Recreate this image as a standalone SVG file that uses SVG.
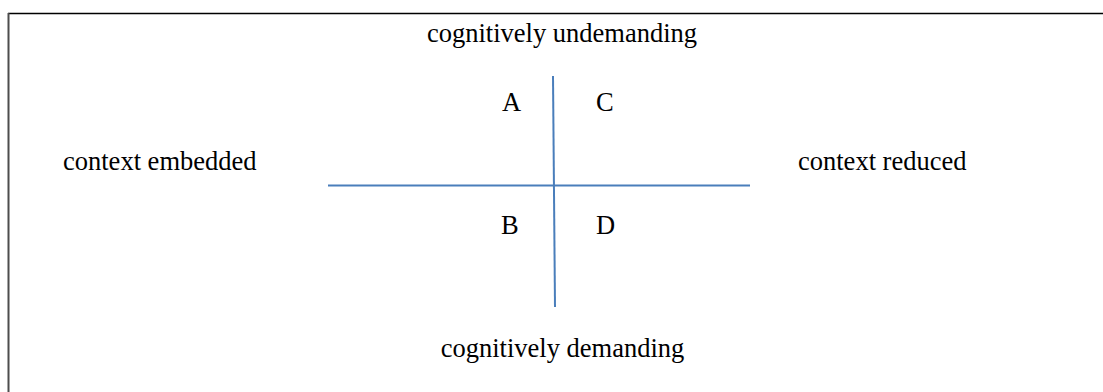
<svg xmlns="http://www.w3.org/2000/svg" width="1103" height="392" viewBox="0 0 1103 392">
<style>
text{font-family:"Liberation Serif","Times New Roman",serif;font-size:26.5px;fill:#000}
.ax{stroke:#4a7ebb;stroke-width:2;fill:none}
</style>
<rect width="1103" height="392" fill="#fff"/>
<g id="frame">
<line x1="8" y1="13.5" x2="1103" y2="13.5" stroke="#000" stroke-width="1.5"/>
<line x1="8.5" y1="13" x2="8.5" y2="392" stroke="#4d4d4d" stroke-width="2"/>
</g>
<g id="connectors">
<line class="ax" x1="553" y1="76" x2="555" y2="307"/>
<line class="ax" x1="328" y1="185.5" x2="750" y2="185.5"/>
</g>
<g id="top"><text x="562" y="42" text-anchor="middle">cognitively undemanding</text></g>
<g id="bottom"><text x="562.5" y="357" text-anchor="middle">cognitively demanding</text></g>
<g id="left"><text x="63" y="170">context embedded</text></g>
<g id="right"><text x="798" y="170">context reduced</text></g>
<g id="qA"><text x="502" y="111">A</text></g>
<g id="qC"><text x="596" y="111">C</text></g>
<g id="qB"><text x="501" y="234">B</text></g>
<g id="qD"><text x="596" y="234">D</text></g>
</svg>
